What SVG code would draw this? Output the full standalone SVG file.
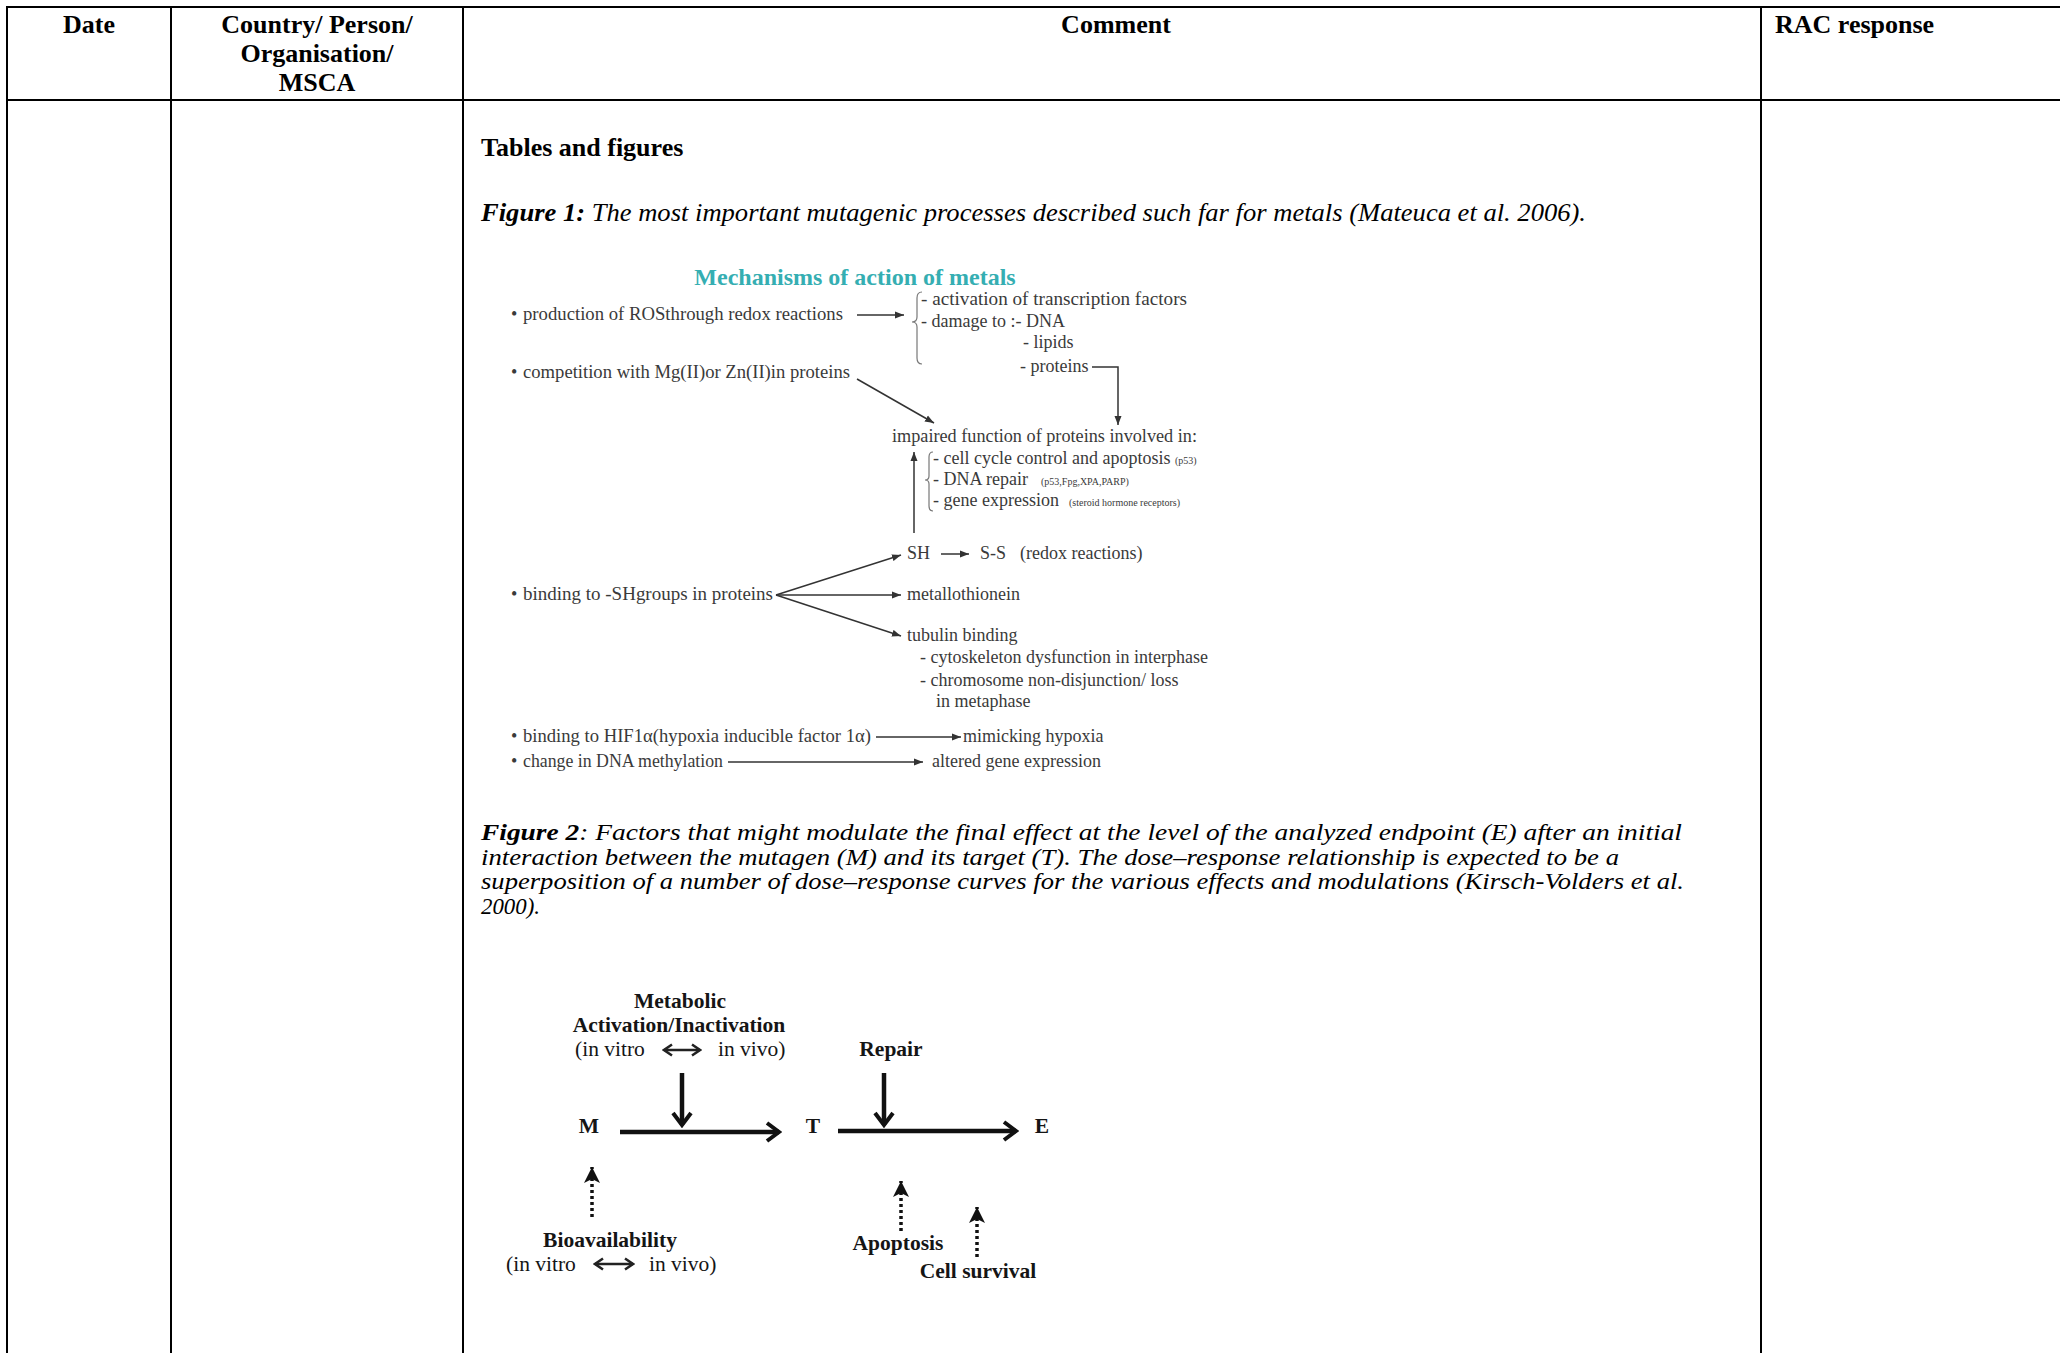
<svg xmlns="http://www.w3.org/2000/svg" width="2060" height="1353" viewBox="0 0 2060 1353">
<style>
.t{font-family:"Liberation Serif","Times New Roman",serif;fill:#000}
.hdr{font-weight:bold;font-size:26px}
.cap{font-style:italic;font-size:26px}
.cap2{font-style:italic;font-size:22.5px}
.bi{font-weight:bold}
.f1{font-family:"Liberation Serif","Times New Roman",serif;font-size:18px;fill:#3a3a3a}
.f1s{font-size:10px}
.ttl{font-family:"Liberation Serif","Times New Roman",serif;font-weight:bold;font-size:24px;fill:#35aeb2}
.f2{font-family:"Liberation Serif","Times New Roman",serif;font-size:21.5px;fill:#151515}
.f2b{font-weight:bold}
.grid line{stroke:#000;stroke-width:2}
.c1{stroke:#333;stroke-width:1.5;fill:none}
.thin{stroke:#777;stroke-width:1.2;fill:none}
.c2{stroke:#111;stroke-width:4.5;fill:none}
.c2d{stroke:#111;stroke-width:3.5;fill:none;stroke-dasharray:3 3}
.c3{stroke:#222;stroke-width:2.5;fill:none}
</style>
<defs>
<marker id="a1" markerWidth="10" markerHeight="8" refX="9" refY="4" orient="auto" markerUnits="userSpaceOnUse"><path d="M0,0.5 L9,4 L0,7.5 z" fill="#333"/></marker>
<marker id="a2" markerWidth="18" markerHeight="22" refX="15" refY="11" orient="auto" markerUnits="userSpaceOnUse"><path d="M3,2 L15,11 L3,20" fill="none" stroke="#111" stroke-width="4"/></marker>
<marker id="a3" markerWidth="12" markerHeight="14" refX="10" refY="7" orient="auto-start-reverse" markerUnits="userSpaceOnUse"><path d="M2,1.5 L10,7 L2,12.5" fill="none" stroke="#222" stroke-width="2.5"/></marker>
<marker id="a4" markerWidth="18" markerHeight="18" refX="16" refY="9" orient="auto" markerUnits="userSpaceOnUse"><path d="M0,1 L16,9 L0,17 L4,9 z" fill="#111"/></marker>
</defs>
<rect width="2060" height="1353" fill="#fff"/>
<g id="table-grid" class="grid">
<line x1="6" y1="7" x2="2060" y2="7"/>
<line x1="6" y1="100" x2="2060" y2="100"/>
<line x1="7" y1="6" x2="7" y2="1353"/>
<line x1="171" y1="6" x2="171" y2="1353"/>
<line x1="463" y1="6" x2="463" y2="1353"/>
<line x1="1761" y1="6" x2="1761" y2="1353"/>
</g>
<g id="header">
<text class="t hdr" x="89" y="33" text-anchor="middle">Date</text>
<text class="t hdr" x="317" y="33" text-anchor="middle">Country/ Person/</text>
<text class="t hdr" x="317" y="62" text-anchor="middle">Organisation/</text>
<text class="t hdr" x="317" y="91" text-anchor="middle">MSCA</text>
<text class="t hdr" x="1116" y="33" text-anchor="middle">Comment</text>
<text class="t hdr" x="1775" y="33">RAC response</text>
</g>
<g id="body-text">
<text class="t hdr" x="481" y="156">Tables and figures</text>
<text class="t cap" x="481" y="221" textLength="1105" lengthAdjust="spacingAndGlyphs"><tspan class="bi">Figure 1:</tspan> The most important mutagenic processes described such far for metals (Mateuca et al. 2006).</text>
<text class="t cap2" x="481" y="840" textLength="1201" lengthAdjust="spacingAndGlyphs"><tspan class="bi">Figure 2</tspan>: Factors that might modulate the final effect at the level of the analyzed endpoint (E) after an initial</text>
<text class="t cap2" x="481" y="864.5" textLength="1138" lengthAdjust="spacingAndGlyphs">interaction between the mutagen (M) and its target (T). The dose–response relationship is expected to be a</text>
<text class="t cap2" x="481" y="889" textLength="1203" lengthAdjust="spacingAndGlyphs">superposition of a number of dose–response curves for the various effects and modulations (Kirsch-Volders et al.</text>
<text class="t cap2" x="481" y="913.5" textLength="59" lengthAdjust="spacingAndGlyphs">2000).</text>
</g>
<g id="fig1">
<g id="fig1-title"><text class="ttl" x="855" y="285" text-anchor="middle">Mechanisms of action of metals</text></g>
<g id="n-ros"><text class="f1" x="511" y="320">•</text><text class="f1" x="523" y="320" textLength="320" lengthAdjust="spacingAndGlyphs">production of ROSthrough redox reactions</text></g>
<g id="n-damage">
<text class="f1" x="921" y="305" textLength="266" lengthAdjust="spacingAndGlyphs">- activation of transcription factors</text>
<text class="f1" x="921" y="327">- damage to :- DNA</text>
<text class="f1" x="1023" y="348">- lipids</text>
<text class="f1" x="1020" y="372">- proteins</text>
</g>
<g id="n-competition"><text class="f1" x="511" y="378">•</text><text class="f1" x="523" y="378" textLength="327" lengthAdjust="spacingAndGlyphs">competition with Mg(II)or Zn(II)in proteins</text></g>
<g id="n-impaired">
<text class="f1" x="892" y="442" textLength="305" lengthAdjust="spacingAndGlyphs">impaired function of proteins involved in:</text>
<text class="f1" x="933" y="464">- cell cycle control and apoptosis <tspan class="f1s">(p53)</tspan></text>
<text class="f1" x="933" y="485">- DNA repair <tspan class="f1s" x="1041">(p53,Fpg,XPA,PARP)</tspan></text>
<text class="f1" x="933" y="506">- gene expression <tspan class="f1s" x="1069">(steroid hormone receptors)</tspan></text>
</g>
<g id="n-sh"><text class="f1" x="907" y="559">SH</text><text class="f1" x="980" y="559">S-S</text><text class="f1" x="1020" y="559">(redox reactions)</text></g>
<g id="n-binding"><text class="f1" x="511" y="600">•</text><text class="f1" x="523" y="600" textLength="250" lengthAdjust="spacingAndGlyphs">binding to -SHgroups in proteins</text></g>
<g id="n-metallothionein"><text class="f1" x="907" y="600">metallothionein</text></g>
<g id="n-tubulin">
<text class="f1" x="907" y="641">tubulin binding</text>
<text class="f1" x="920" y="663">- cytoskeleton dysfunction in interphase</text>
<text class="f1" x="920" y="686">- chromosome non-disjunction/ loss</text>
<text class="f1" x="936" y="707">in metaphase</text>
</g>
<g id="n-hif"><text class="f1" x="511" y="742">•</text><text class="f1" x="523" y="742" textLength="348" lengthAdjust="spacingAndGlyphs">binding to HIF1α(hypoxia inducible factor 1α)</text></g>
<g id="n-hypoxia"><text class="f1" x="963" y="742">mimicking hypoxia</text></g>
<g id="n-methylation"><text class="f1" x="511" y="767">•</text><text class="f1" x="523" y="767" textLength="200" lengthAdjust="spacingAndGlyphs">change in DNA methylation</text></g>
<g id="n-altered"><text class="f1" x="932" y="767">altered gene expression</text></g>
</g>
<g id="fig2">
<g id="n-metabolic">
<text class="f2 f2b" x="680" y="1008" text-anchor="middle">Metabolic</text>
<text class="f2 f2b" x="679" y="1032" text-anchor="middle">Activation/Inactivation</text>
<text class="f2" x="575" y="1056">(in vitro</text>
<text class="f2" x="718" y="1056">in vivo)</text>
</g>
<g id="n-repair"><text class="f2 f2b" x="891" y="1056" text-anchor="middle">Repair</text></g>
<g id="n-M"><text class="f2 f2b" x="589" y="1133" text-anchor="middle">M</text></g>
<g id="n-T"><text class="f2 f2b" x="813" y="1133" text-anchor="middle">T</text></g>
<g id="n-E"><text class="f2 f2b" x="1042" y="1133" text-anchor="middle">E</text></g>
<g id="n-bio">
<text class="f2 f2b" x="610" y="1247" text-anchor="middle">Bioavailability</text>
<text class="f2" x="506" y="1271">(in vitro</text>
<text class="f2" x="649" y="1271">in vivo)</text>
</g>
<g id="n-apoptosis"><text class="f2 f2b" x="898" y="1250" text-anchor="middle">Apoptosis</text></g>
<g id="n-survival"><text class="f2 f2b" x="978" y="1278" text-anchor="middle">Cell survival</text></g>
</g>
<g id="connectors">
<line class="c1" x1="857" y1="315" x2="904" y2="315" marker-end="url(#a1)"/>
<path class="thin" d="M922,292 Q917,292 917,298 L917,317 Q917,322 912,322 Q917,322 917,327 L917,358 Q917,364 922,364"/>
<path class="c1" d="M1092,367 H1118 V425" marker-end="url(#a1)"/>
<line class="c1" x1="857" y1="379" x2="934" y2="423" marker-end="url(#a1)"/>
<line class="c1" x1="914" y1="533" x2="914" y2="452" marker-end="url(#a1)"/>
<path class="thin" d="M933,452 Q929,452 929,457 L929,476 Q929,480 925,480 Q929,480 929,484 L929,506 Q929,511 933,511"/>
<line class="c1" x1="941" y1="554" x2="969" y2="554" marker-end="url(#a1)"/>
<line class="c1" x1="776" y1="595" x2="901" y2="555" marker-end="url(#a1)"/>
<line class="c1" x1="776" y1="595" x2="901" y2="595" marker-end="url(#a1)"/>
<line class="c1" x1="776" y1="595" x2="901" y2="636" marker-end="url(#a1)"/>
<line class="c1" x1="876" y1="737" x2="961" y2="737" marker-end="url(#a1)"/>
<line class="c1" x1="728" y1="762" x2="923" y2="762" marker-end="url(#a1)"/>
<line class="c2" x1="682" y1="1073" x2="682" y2="1125" marker-end="url(#a2)"/>
<line class="c2" x1="884" y1="1073" x2="884" y2="1125" marker-end="url(#a2)"/>
<line class="c2" x1="620" y1="1132" x2="779" y2="1132" marker-end="url(#a2)"/>
<line class="c2" x1="838" y1="1131" x2="1016" y2="1131" marker-end="url(#a2)"/>
<line class="c3" x1="664" y1="1050" x2="700" y2="1050" marker-start="url(#a3)" marker-end="url(#a3)"/>
<line class="c3" x1="595" y1="1264" x2="633" y2="1264" marker-start="url(#a3)" marker-end="url(#a3)"/>
<line class="c2d" x1="592" y1="1217" x2="592" y2="1167" marker-end="url(#a4)"/>
<line class="c2d" x1="901" y1="1231" x2="901" y2="1181" marker-end="url(#a4)"/>
<line class="c2d" x1="977" y1="1257" x2="977" y2="1207" marker-end="url(#a4)"/>
</g>
</svg>
